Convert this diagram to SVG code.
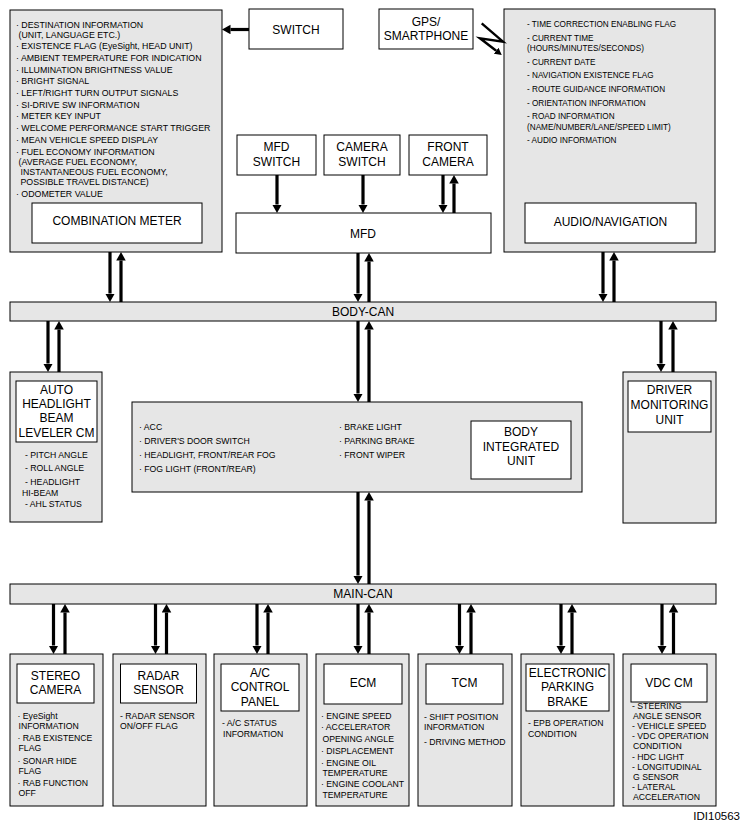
<svg xmlns="http://www.w3.org/2000/svg" width="748" height="828" viewBox="0 0 748 828">
<style>
text{font-family:"Liberation Sans",Arial,sans-serif;fill:#000}
.g{fill:#e6e6e6;stroke:#000;stroke-width:1}
.w{fill:#fff;stroke:#000;stroke-width:1}
.t{font-size:12px;text-anchor:middle}
.l{font-size:8.7px}
.s{font-size:8.2px}
.c{font-size:8.8px}
.a{stroke:#000;stroke-width:3.2;fill:none;marker-end:url(#ah)}
.z{stroke:#000;stroke-width:2.4;fill:none;marker-end:url(#ah2)}
</style>
<defs>
<marker id="ah" markerUnits="userSpaceOnUse" markerWidth="9" markerHeight="10" refX="0" refY="4.75" orient="auto"><path d="M0,0 L8.5,4.75 L0,9.5 z" fill="#000"/></marker>
<marker id="ah2" markerUnits="userSpaceOnUse" markerWidth="8" markerHeight="8" refX="0" refY="3.75" orient="auto"><path d="M0,0 L7,3.75 L0,7.5 z" fill="#000"/></marker>
</defs>
<rect width="748" height="828" fill="#fff"/>

<g id="combination-meter">
<rect class="g" x="10" y="10" width="212" height="242"/>
<text class="c" x="16" y="28.2">· DESTINATION INFORMATION</text>
<text class="c" x="18.5" y="38.2">(UNIT, LANGUAGE ETC.)</text>
<text class="c" x="16" y="49.2">· EXISTENCE FLAG (EyeSight, HEAD UNIT)</text>
<text class="c" x="16" y="60.9">· AMBIENT TEMPERATURE FOR INDICATION</text>
<text class="c" x="16" y="72.6">· ILLUMINATION BRIGHTNESS VALUE</text>
<text class="c" x="16" y="84.3">· BRIGHT SIGNAL</text>
<text class="c" x="16" y="96">· LEFT/RIGHT TURN OUTPUT SIGNALS</text>
<text class="c" x="16" y="107.7">· SI-DRIVE SW INFORMATION</text>
<text class="c" x="16" y="119.4">· METER KEY INPUT</text>
<text class="c" x="16" y="131.1">· WELCOME PERFORMANCE START TRIGGER</text>
<text class="c" x="16" y="142.8">· MEAN VEHICLE SPEED DISPLAY</text>
<text class="c" x="16" y="154.5">· FUEL ECONOMY INFORMATION</text>
<text class="c" x="18.5" y="164.8">(AVERAGE FUEL ECONOMY,</text>
<text class="c" x="20.5" y="175.1">INSTANTANEOUS FUEL ECONOMY,</text>
<text class="c" x="20.5" y="185.4">POSSIBLE TRAVEL DISTANCE)</text>
<text class="c" x="16" y="197.1">· ODOMETER VALUE</text>
<rect class="w" x="32" y="203" width="170" height="40"/>
<text class="t" x="117" y="225">COMBINATION METER</text>
</g>

<g id="switch">
<rect class="w" x="249" y="9" width="94" height="40"/>
<text class="t" x="296" y="33.5">SWITCH</text>
</g>

<g id="gps-smartphone">
<rect class="w" x="379" y="9" width="94" height="40"/>
<text class="t" x="426" y="26">GPS/</text>
<text class="t" x="426" y="39.5">SMARTPHONE</text>
</g>

<g id="audio-navigation">
<rect class="g" x="504" y="9" width="211" height="243"/>
<text class="s" x="527" y="27">- TIME CORRECTION ENABLING FLAG</text>
<text class="s" x="527" y="40.6">- CURRENT TIME</text>
<text class="s" x="527" y="51.1">(HOURS/MINUTES/SECONDS)</text>
<text class="s" x="527" y="64.7">- CURRENT DATE</text>
<text class="s" x="527" y="78.3">- NAVIGATION EXISTENCE FLAG</text>
<text class="s" x="527" y="91.9">- ROUTE GUIDANCE INFORMATION</text>
<text class="s" x="527" y="105.5">- ORIENTATION INFORMATION</text>
<text class="s" x="527" y="119.1">- ROAD INFORMATION</text>
<text class="s" x="527" y="129.6">(NAME/NUMBER/LANE/SPEED LIMIT)</text>
<text class="s" x="527" y="143.2">- AUDIO INFORMATION</text>
<rect class="w" x="525" y="203" width="171" height="40"/>
<text class="t" x="610.5" y="226">AUDIO/NAVIGATION</text>
</g>

<g id="mfd-switch">
<rect class="w" x="237" y="135" width="79" height="40"/>
<text class="t" x="276.5" y="151">MFD</text>
<text class="t" x="276.5" y="166">SWITCH</text>
</g>

<g id="camera-switch">
<rect class="w" x="324" y="135" width="76" height="40"/>
<text class="t" x="362" y="151">CAMERA</text>
<text class="t" x="362" y="166">SWITCH</text>
</g>

<g id="front-camera">
<rect class="w" x="409" y="135" width="78" height="40"/>
<text class="t" x="448" y="151">FRONT</text>
<text class="t" x="448" y="166">CAMERA</text>
</g>

<g id="mfd">
<rect class="w" x="236" y="213" width="255" height="40"/>
<text class="t" x="363" y="237.5">MFD</text>
</g>

<g id="body-can">
<rect class="g" x="10" y="302" width="706" height="19"/>
<text class="t" x="363" y="316">BODY-CAN</text>
</g>

<g id="auto-headlight-beam-leveler">
<rect class="g" x="10" y="372" width="92" height="150"/>
<rect class="w" x="16" y="381" width="81" height="61"/>
<text class="t" x="56.5" y="394.3">AUTO</text>
<text class="t" x="56.5" y="408.3">HEADLIGHT</text>
<text class="t" x="56.5" y="422.3">BEAM</text>
<text class="t" x="56.5" y="437">LEVELER CM</text>
<text class="l" x="25" y="458.1">- PITCH ANGLE</text>
<text class="l" x="25" y="471.1">- ROLL ANGLE</text>
<text class="l" x="25" y="485.1">- HEADLIGHT</text>
<text class="l" x="22" y="496.1">HI-BEAM</text>
<text class="l" x="25" y="507.1">- AHL STATUS</text>
</g>

<g id="body-integrated-unit">
<rect class="g" x="132" y="402" width="450" height="90"/>
<text class="l" x="139" y="430">· ACC</text>
<text class="l" x="139" y="444">· DRIVER'S DOOR SWITCH</text>
<text class="l" x="139" y="458">· HEADLIGHT, FRONT/REAR FOG</text>
<text class="l" x="139" y="472">· FOG LIGHT (FRONT/REAR)</text>
<text class="l" x="339" y="430">· BRAKE LIGHT</text>
<text class="l" x="339" y="444">· PARKING BRAKE</text>
<text class="l" x="339" y="458">· FRONT WIPER</text>
<rect class="w" x="471" y="421" width="100" height="58"/>
<text class="t" x="521" y="436">BODY</text>
<text class="t" x="521" y="450.5">INTEGRATED</text>
<text class="t" x="521" y="465">UNIT</text>
</g>

<g id="driver-monitoring-unit">
<rect class="g" x="623" y="372" width="93" height="151"/>
<rect class="w" x="628" y="381" width="83" height="51"/>
<text class="t" x="669.5" y="394.3">DRIVER</text>
<text class="t" x="669.5" y="409.3">MONITORING</text>
<text class="t" x="669.5" y="424.3">UNIT</text>
</g>

<g id="main-can">
<rect class="g" x="10" y="584" width="706" height="20"/>
<text class="t" x="363" y="598.3">MAIN-CAN</text>
</g>

<g id="stereo-camera">
<rect class="g" x="10" y="654" width="93" height="152"/>
<rect class="w" x="17" y="664" width="77" height="39"/>
<text class="t" x="55.5" y="680.3">STEREO</text>
<text class="t" x="55.5" y="694.3">CAMERA</text>
<text class="l" x="17.5" y="719.1">· EyeSight</text>
<text class="l" x="18.5" y="729.1">INFORMATION</text>
<text class="l" x="17.5" y="741.1">· RAB EXISTENCE</text>
<text class="l" x="18.5" y="751.1">FLAG</text>
<text class="l" x="17.5" y="764.1">· SONAR HIDE</text>
<text class="l" x="18.5" y="774.1">FLAG</text>
<text class="l" x="17.5" y="786.1">· RAB FUNCTION</text>
<text class="l" x="18.5" y="796.1">OFF</text>
</g>

<g id="radar-sensor">
<rect class="g" x="113" y="654" width="93" height="152"/>
<rect class="w" x="120.5" y="664" width="76" height="39"/>
<text class="t" x="158.5" y="680.3">RADAR</text>
<text class="t" x="158.5" y="694.3">SENSOR</text>
<text class="l" x="120" y="719.1">- RADAR SENSOR</text>
<text class="l" x="120" y="729.1">ON/OFF FLAG</text>
</g>

<g id="ac-control-panel">
<rect class="g" x="214" y="654" width="93" height="152"/>
<rect class="w" x="221" y="664" width="78" height="47"/>
<text class="t" x="260" y="677.3">A/C</text>
<text class="t" x="260" y="691.3">CONTROL</text>
<text class="t" x="260" y="706">PANEL</text>
<text class="l" x="222" y="726.1">- A/C STATUS</text>
<text class="l" x="223" y="737.1">INFORMATION</text>
</g>

<g id="ecm">
<rect class="g" x="316" y="654" width="93" height="152"/>
<rect class="w" x="324" y="664" width="78" height="40"/>
<text class="t" x="363" y="687.3">ECM</text>
<text class="l" x="321" y="719.1">· ENGINE SPEED</text>
<text class="l" x="321" y="730.1">· ACCELERATOR</text>
<text class="l" x="322.5" y="742.1">OPENING ANGLE</text>
<text class="l" x="321" y="754.1">· DISPLACEMENT</text>
<text class="l" x="321" y="766.1">· ENGINE OIL</text>
<text class="l" x="322.5" y="776.1">TEMPERATURE</text>
<text class="l" x="321" y="787.1">· ENGINE COOLANT</text>
<text class="l" x="322.5" y="798.1">TEMPERATURE</text>
</g>

<g id="tcm">
<rect class="g" x="418" y="654" width="94" height="152"/>
<rect class="w" x="426" y="664" width="77" height="40"/>
<text class="t" x="464.5" y="687.3">TCM</text>
<text class="l" x="424" y="720.1">- SHIFT POSITION</text>
<text class="l" x="424" y="730.1">INFORMATION</text>
<text class="l" x="424" y="745.1">- DRIVING METHOD</text>
</g>

<g id="electronic-parking-brake">
<rect class="g" x="521" y="654" width="93" height="152"/>
<rect class="w" x="526" y="664" width="83" height="47"/>
<text class="t" x="567.5" y="677.3">ELECTRONIC</text>
<text class="t" x="567.5" y="691.3">PARKING</text>
<text class="t" x="567.5" y="706">BRAKE</text>
<text class="l" x="528" y="726.1">- EPB OPERATION</text>
<text class="l" x="528" y="737.1">CONDITION</text>
</g>

<g id="vdc-cm">
<rect class="g" x="623" y="654" width="93" height="152"/>
<rect class="w" x="631" y="664" width="76" height="38"/>
<text class="t" x="669" y="687">VDC CM</text>
<text class="l" x="632" y="709">- STEERING</text>
<text class="l" x="633" y="718.6">ANGLE SENSOR</text>
<text class="l" x="632" y="729.3">- VEHICLE SPEED</text>
<text class="l" x="632" y="739.3">- VDC OPERATION</text>
<text class="l" x="633" y="749.1">CONDITION</text>
<text class="l" x="632" y="760.1">- HDC LIGHT</text>
<text class="l" x="632" y="770.1">- LONGITUDINAL</text>
<text class="l" x="633" y="780.1">G SENSOR</text>
<text class="l" x="632" y="790.1">- LATERAL</text>
<text class="l" x="633" y="800.1">ACCELERATION</text>
</g>

<g id="connectors">
<line class="a" x1="249" y1="29.5" x2="230.5" y2="29.5"/>
<path class="z" d="M481.7,23.3 L503,41.7 L480,38.3 L496.2,50.7"/>
<line class="a" x1="277" y1="175" x2="277" y2="204.5"/>
<line class="a" x1="363" y1="175" x2="363" y2="204.5"/>
<line class="a" x1="443" y1="175" x2="443" y2="204.5"/>
<line class="a" x1="454" y1="213" x2="454" y2="183.5"/>
<line class="a" x1="110" y1="252" x2="110" y2="293.5"/>
<line class="a" x1="121" y1="302" x2="121" y2="260.5"/>
<line class="a" x1="358" y1="253" x2="358" y2="293.5"/>
<line class="a" x1="369" y1="302" x2="369" y2="261.5"/>
<line class="a" x1="603" y1="252" x2="603" y2="293.5"/>
<line class="a" x1="614" y1="302" x2="614" y2="260.5"/>
<line class="a" x1="48" y1="321" x2="48" y2="363.5"/>
<line class="a" x1="59" y1="372" x2="59" y2="329.5"/>
<line class="a" x1="358" y1="321" x2="358" y2="393.5"/>
<line class="a" x1="369" y1="402" x2="369" y2="329.5"/>
<line class="a" x1="661" y1="321" x2="661" y2="363.5"/>
<line class="a" x1="673" y1="372" x2="673" y2="329.5"/>
<line class="a" x1="358" y1="492" x2="358" y2="575.5"/>
<line class="a" x1="369" y1="584" x2="369" y2="500.5"/>
<line class="a" x1="53.5" y1="604" x2="53.5" y2="645.5"/>
<line class="a" x1="65" y1="654" x2="65" y2="612.5"/>
<line class="a" x1="155.5" y1="604" x2="155.5" y2="645.5"/>
<line class="a" x1="166.5" y1="654" x2="166.5" y2="612.5"/>
<line class="a" x1="257" y1="604" x2="257" y2="645.5"/>
<line class="a" x1="268" y1="654" x2="268" y2="612.5"/>
<line class="a" x1="358" y1="604" x2="358" y2="645.5"/>
<line class="a" x1="369" y1="654" x2="369" y2="612.5"/>
<line class="a" x1="459.5" y1="604" x2="459.5" y2="645.5"/>
<line class="a" x1="471" y1="654" x2="471" y2="612.5"/>
<line class="a" x1="561" y1="604" x2="561" y2="645.5"/>
<line class="a" x1="572" y1="654" x2="572" y2="612.5"/>
<line class="a" x1="662" y1="604" x2="662" y2="645.5"/>
<line class="a" x1="673.5" y1="654" x2="673.5" y2="612.5"/>
</g>

<text x="740" y="820" style="font-size:11.5px;text-anchor:end">IDI10563</text>
</svg>
